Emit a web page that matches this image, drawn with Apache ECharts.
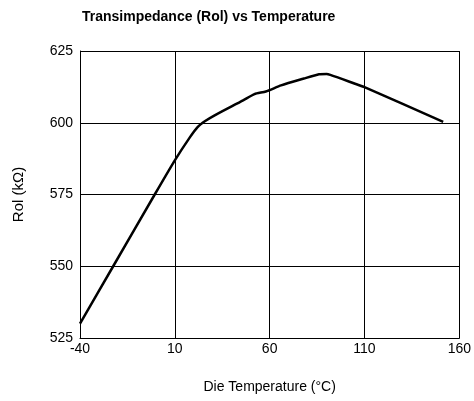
<!DOCTYPE html>
<html>
<head>
<meta charset="utf-8">
<script src="https://cdn.jsdelivr.net/npm/echarts@6/dist/echarts.min.js"></script>
<style>
  html, body { margin: 0; padding: 0; background: #fff; }
  #chart { width: 474px; height: 401px; }
</style>
</head>
<body>
<div id="chart"></div>
<script>
// die temperature (°C) and transimpedance (kΩ)
const temps = [-40, -22.5, -0.6, 10, 18, 22, 26, 31, 46, 52, 58, 66, 78, 86, 90, 92, 105, 110, 151.5];
const rol = [530, 550, 575, 586.9, 595, 598.5, 600.6, 602.6, 607.8, 610, 610.9, 613, 615.4, 616.9, 617, 616.7, 613.6, 612.4, 600.3];

const xTicks = [-40, 10, 60, 110, 160];
const yTicks = [525, 550, 575, 600, 625];

const FONT = "Liberation Sans, Arial, sans-serif";

const chart = echarts.init(document.getElementById("chart"));

const option = {
  backgroundColor: "#fff",
  animation: false,
  title: {
    text: "Transimpedance (Rol) vs Temperature",
    left: 77,
    top: 5,
    textStyle: {
      fontFamily: FONT,
      fontSize: 14,
      fontWeight: "bold",
      color: "#000",
    },
  },
  grid: {
    left: 80,
    right: 11,
    top: 51,
    bottom: 63,
  },
  xAxis: {
    type: "value",
    min: xTicks[0],
    max: xTicks[xTicks.length - 1],
    interval: 50,
    name: "Die Temperature (°C)",
    nameLocation: "middle",
    nameGap: 42,
    nameTextStyle: { fontFamily: FONT, fontSize: 14, color: "#000" },
    axisLine: { onZero: false, lineStyle: { color: "#000", width: 1 } },
    axisTick: { show: false },
    axisLabel: { fontFamily: FONT, fontSize: 14, color: "#000", margin: 4 },
    splitLine: { show: true, lineStyle: { color: "#000", width: 1 } },
  },
  yAxis: {
    type: "value",
    min: yTicks[0],
    max: yTicks[yTicks.length - 1],
    interval: 25,
    name: "Rol (kΩ)",
    nameLocation: "middle",
    nameGap: 54,
    nameTextStyle: { fontFamily: FONT, fontSize: 15, color: "#000" },
    axisLine: { show: true, onZero: false, lineStyle: { color: "#000", width: 1 } },
    axisTick: { show: false },
    axisLabel: { fontFamily: FONT, fontSize: 14, color: "#000", margin: 7 },
    splitLine: { show: true, lineStyle: { color: "#000", width: 1 } },
  },
  series: [
    {
      type: "line",
      data: temps.map((t, i) => [t, rol[i]]),
      symbol: "none",
      smooth: 0.2,
      lineStyle: { color: "#000", width: 2.5 },
    },
  ],
};

chart.setOption(option);
</script>
</body>
</html>
